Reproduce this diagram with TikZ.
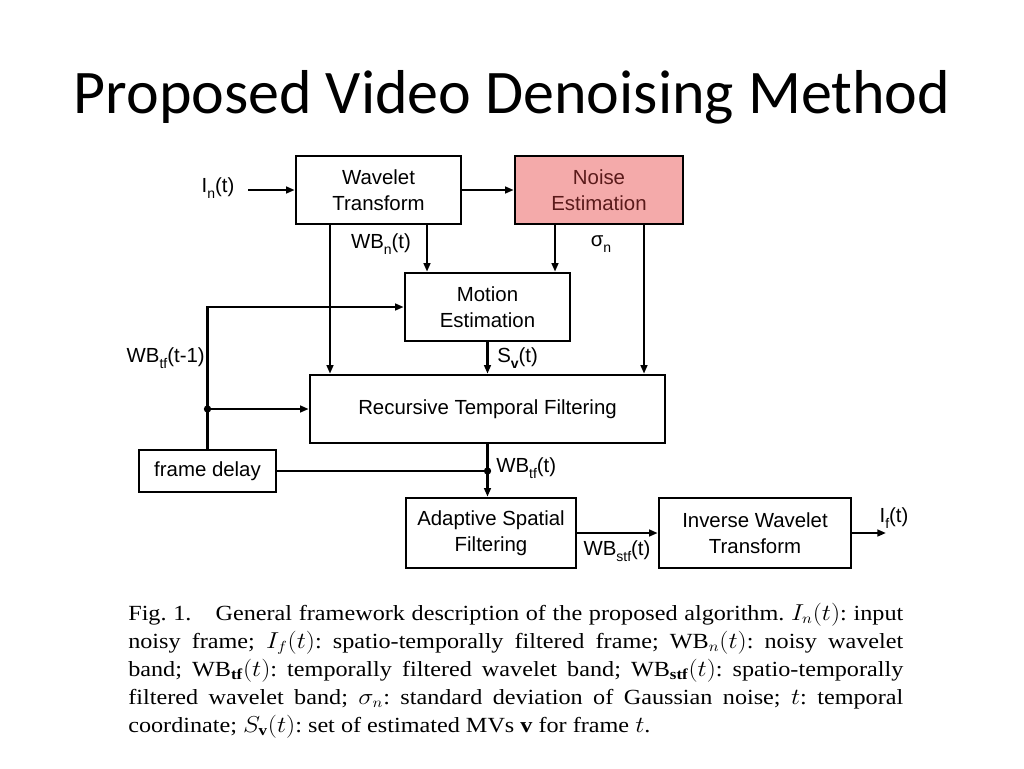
\documentclass[tikz,border=0pt]{standalone}
\usepackage{fontspec}
\setmainfont{Liberation Serif}
\newfontfamily\titlefont{Carlito}
\newfontfamily\diafont{Liberation Sans}
\usetikzlibrary{arrows.meta,calc}
\definecolor{noisefill}{RGB}{244,170,170}
\definecolor{noisetext}{RGB}{90,26,26}
\newcommand{\lsub}[1]{\raisebox{-0.5ex}{\fontsize{10.5}{10.5}\selectfont #1}}
\begin{document}
\begin{tikzpicture}[x=0.75pt,y=-0.75pt,
  box/.style={draw,line width=1.9pt,inner sep=0pt,align=center,font=\diafont\fontsize{15.3}{19.5}\selectfont},
  lbl/.style={inner sep=0pt,font=\diafont\fontsize{15.3}{18.5}\selectfont},
  arr/.style={line width=1.7pt,-{Triangle[length=6.5pt,width=5pt]}},
  ln/.style={line width=1.7pt},
  dot/.style={circle,fill,inner sep=0pt,minimum size=5.5pt}]
\useasboundingbox (0,0) rectangle (1024,768);
\fill[white] (0,0) rectangle (1024,768);
% title
\node[inner sep=0pt,font=\titlefont\fontsize{46.5}{50}\selectfont] (title) at (512,97) {Proposed Video Denoising Method};
% boxes
\node[box,minimum width=123.75pt,minimum height=51pt] (wt) at (378.5,190) {Wavelet\\Transform};
\node[box,fill=noisefill,text=noisetext,minimum width=126pt,minimum height=51pt] (ne) at (599,190) {Noise\\Estimation};
\node[box,minimum width=123.75pt,minimum height=51pt] (me) at (487.5,307) {Motion\\Estimation};
\node[box,minimum width=266.25pt,minimum height=51pt] (rtf) at (487.5,409) {Recursive Temporal Filtering};
\node[box,minimum width=102.75pt,minimum height=31.5pt] (fd) at (207.5,471) {frame delay};
\node[box,minimum width=127.5pt,minimum height=52.5pt] (asf) at (491,533) {Adaptive Spatial\\Filtering};
\node[box,minimum width=144pt,minimum height=52.5pt] (iwt) at (755,533) {Inverse Wavelet\\Transform};
% helper coordinates
\coordinate (in) at (248,190);
\coordinate (out) at (886,533);
\coordinate (x1) at (330,0);
\coordinate (x2) at (427,0);
\coordinate (x3) at (555,0);
\coordinate (x4) at (644,0);
\coordinate (j1) at (fd.north |- rtf.west);
\coordinate (j2) at (rtf.south |- fd.east);
% connectors
\draw[arr] (in) -- (wt.west);
\draw[arr] (wt.east) -- (ne.west);
\draw[arr] (wt.south -| x1) -- (rtf.north -| x1);
\draw[arr] (wt.south -| x2) -- (me.north -| x2);
\draw[arr] (ne.south -| x3) -- (me.north -| x3);
\draw[arr] (ne.south -| x4) -- (rtf.north -| x4);
\draw[arr] (me.south) -- (rtf.north);
\draw[arr] (fd.north) |- (me.west);
\draw[arr] (j1) -- (rtf.west);
\node[dot] at (j1) {};
\draw[arr] (rtf.south) -- (rtf.south |- asf.north);
\draw[ln] (fd.east) -- (j2);
\node[dot] at (j2) {};
\draw[arr] (asf.east) -- (iwt.west);
\draw[arr] (iwt.east) -- (out);
% labels
\node[lbl] (lin) at (218,188) {I\lsub{n}(t)};
\node[lbl] (lwbn) at (381,244) {WB\lsub{n}(t)};
\node[lbl] (lsig) at (601,244) {σ\lsub{n}};
\node[lbl,anchor=east] (lwbtf1) at (205,358) {WB\lsub{tf}(t-1)};
\node[lbl,anchor=west] (lsv) at (497,358) {S\lsub{\textbf{v}}(t)};
\node[lbl,anchor=west] (lwbtf) at (496,468) {WB\lsub{tf}(t)};
\node[lbl] (lwbstf) at (617,551) {WB\lsub{stf}(t)};
\node[lbl] (lif) at (894,518) {I\lsub{f}(t)};
% caption
\node[anchor=north west,inner sep=0pt,xscale=1.12,transform shape,text width=519pt,align=justify,font=\fontsize{16.2}{21}\selectfont\frenchspacing] (cap) at (128,603) {%
Fig.~1.\quad General framework description of the proposed algorithm. $I_n(t)$: input\linebreak
noisy frame; $I_f(t)$: spatio-temporally filtered frame; $\mathrm{WB}_n(t)$: noisy wavelet\linebreak
band; $\mathrm{WB}_{\mathbf{tf}}(t)$: temporally filtered wavelet band; $\mathrm{WB}_{\mathbf{stf}}(t)$: spatio-temporally\linebreak
filtered wavelet band; $\sigma_n$: standard deviation of Gaussian noise; $t$: temporal\linebreak
coordinate; $S_{\mathbf{v}}(t)$: set of estimated MVs $\mathbf{v}$ for frame $t$.};
\end{tikzpicture}
\end{document}
